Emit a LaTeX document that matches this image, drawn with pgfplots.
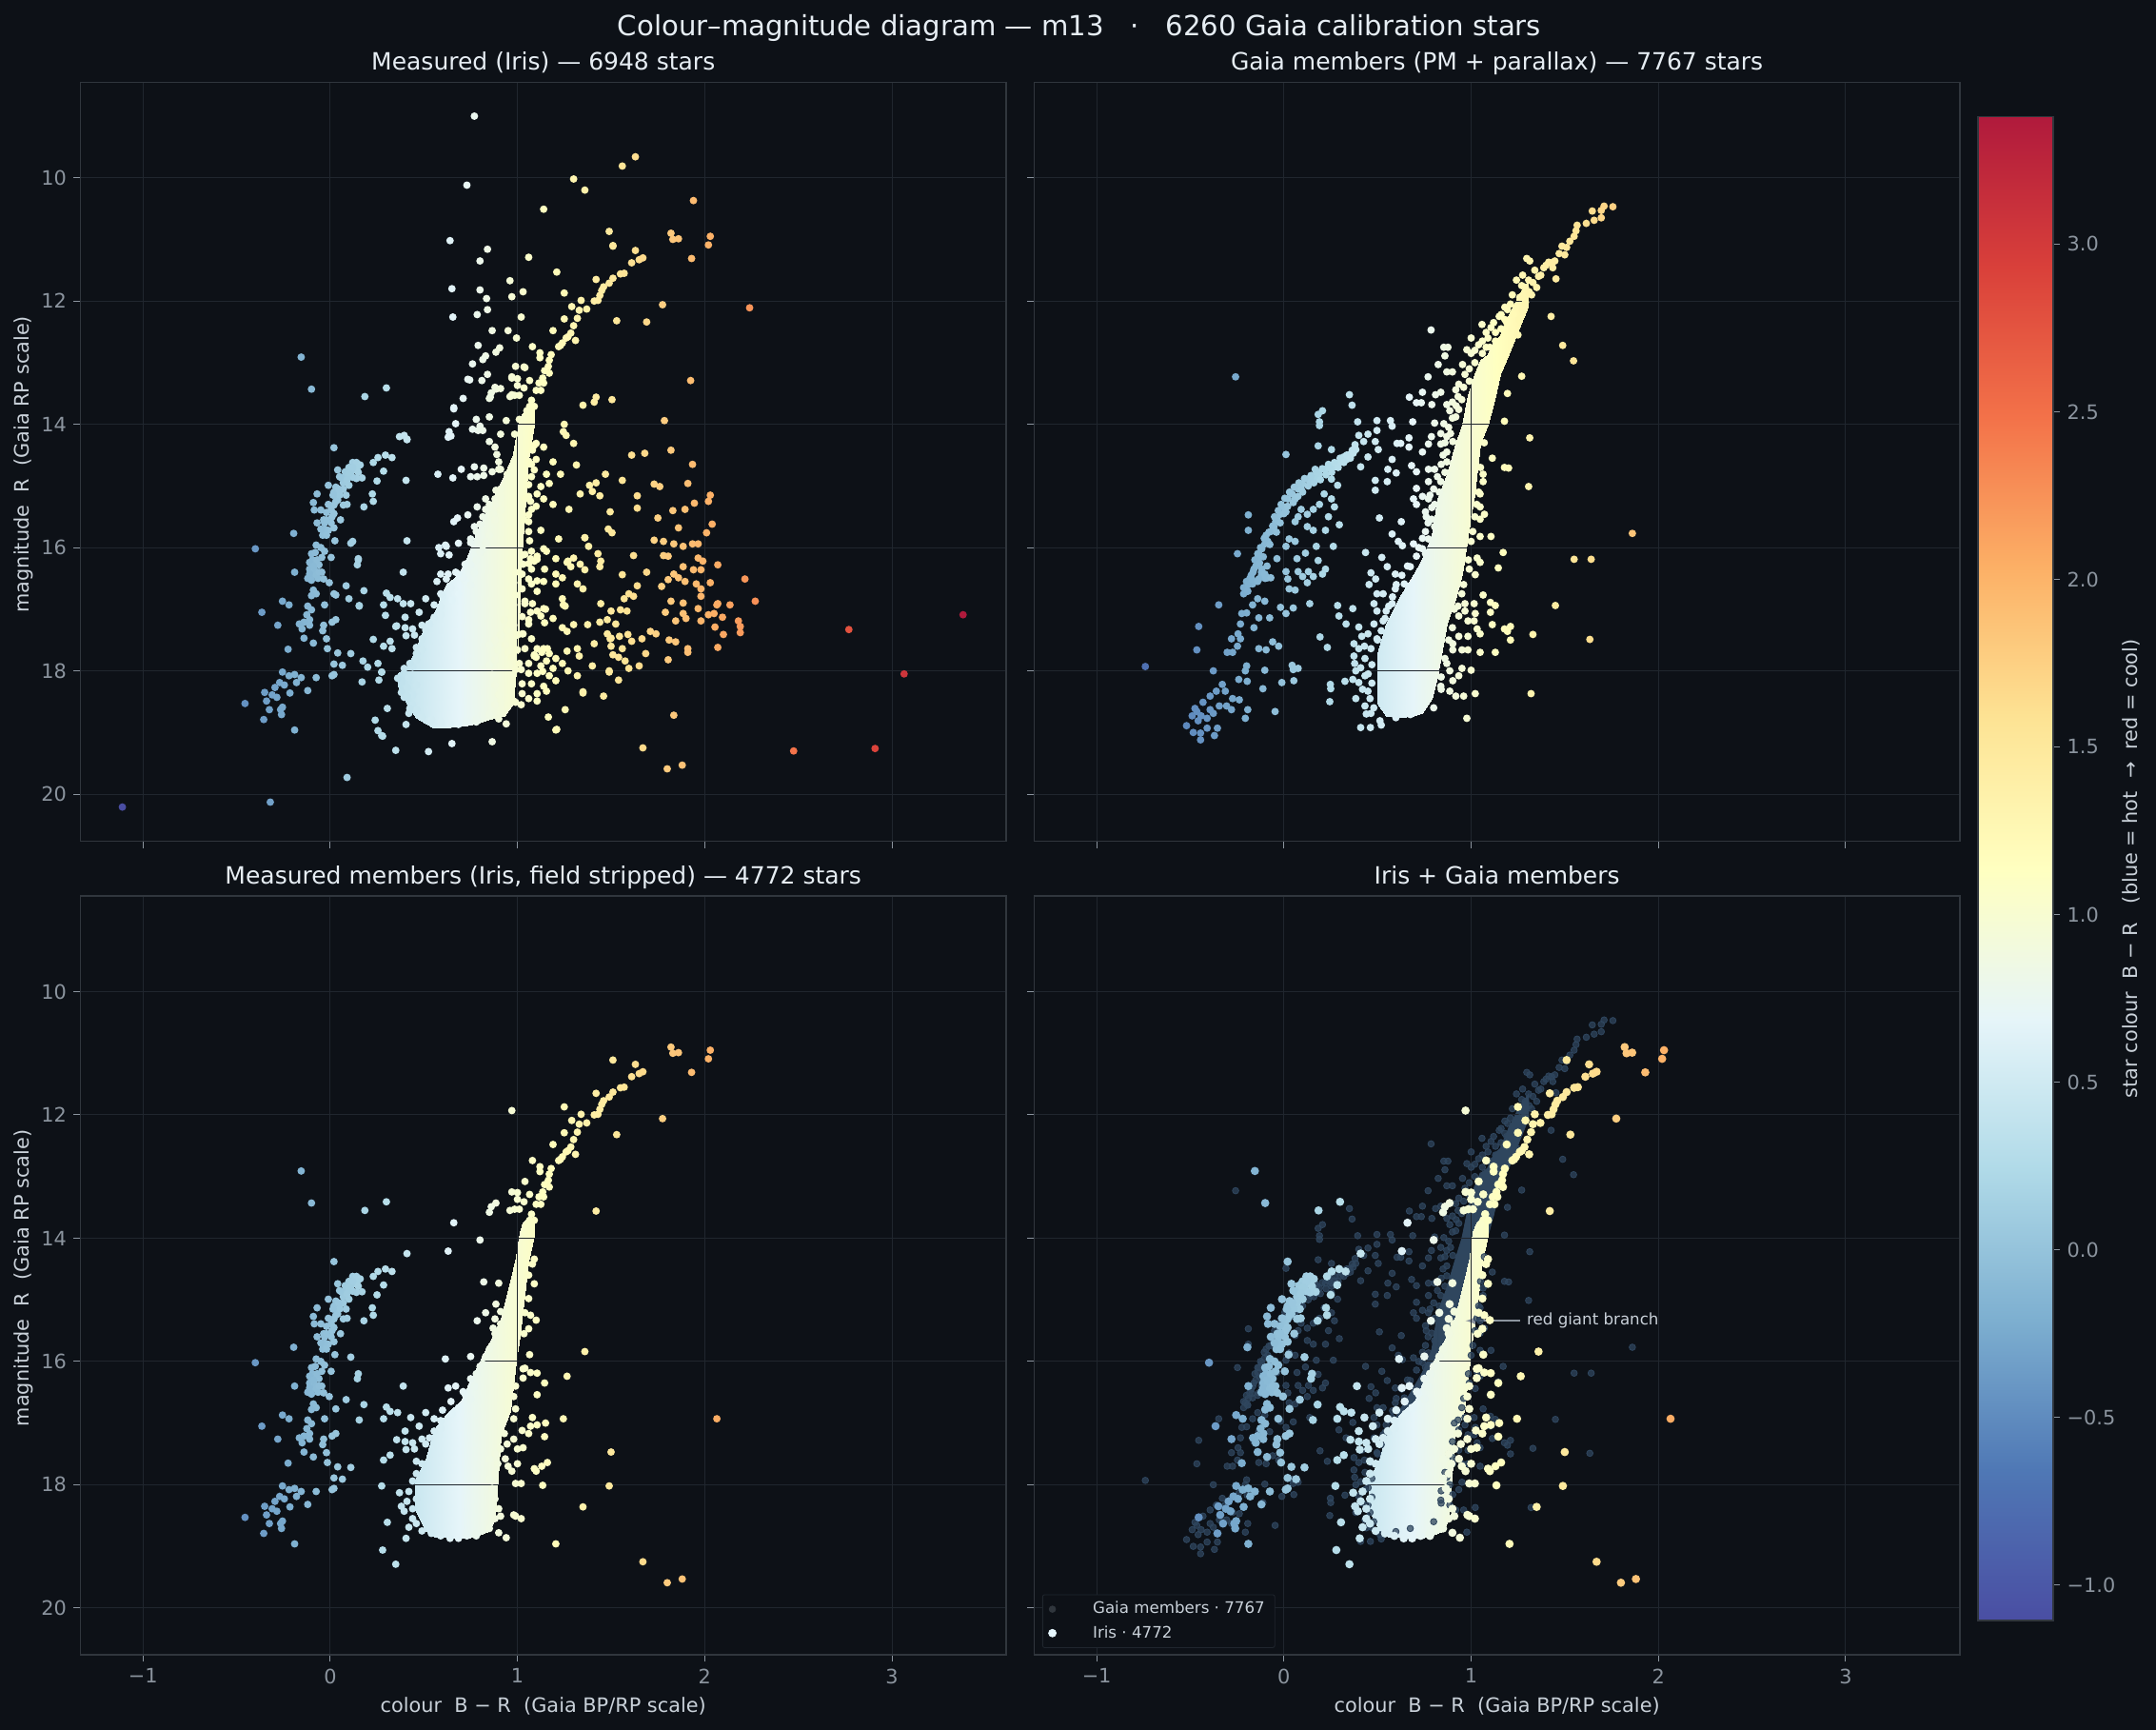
\documentclass[border=0pt]{standalone}
\usepackage{fontspec}
\setmainfont{DejaVu Sans}
\usepackage{pgfplots}
\usepackage{pgfplotstable}
\pgfplotsset{compat=1.18}
\usepgfplotslibrary{patchplots}
\definecolor{bgc}{HTML}{0D1117}
\definecolor{gridc}{HTML}{20262E}
\definecolor{framec}{HTML}{30363D}
\definecolor{tickc}{HTML}{8B949E}
\definecolor{labc}{HTML}{C9D1D9}
\definecolor{titc}{HTML}{E6EDF3}
\definecolor{gaiadim}{HTML}{2F465E}
\pgfplotsset{
  colormap={star}{rgb255=(74,78,163) rgb255=(79,120,181) rgb255=(125,175,208) rgb255=(176,218,232) rgb255=(230,245,249) rgb255=(255,255,192) rgb255=(253,227,148) rgb255=(252,176,102) rgb255=(243,114,73) rgb255=(217,64,58) rgb255=(176,26,60)},
  panel/.style={scale only axis,width=466.8pt,height=382.5pt,
    xmin=-1.334,xmax=3.61,ymin=8.45,ymax=20.76,y dir=reverse,
    axis on top,grid=major,grid style={color=gridc,line width=0.5pt},
    axis line style={color=framec,line width=0.7pt},
    tick style={color=tickc,line width=0.5pt},major tick length=3.5pt,tick align=outside,
    xtick pos=bottom,ytick pos=left,
    xtick={-1,0,1,2,3},ytick={10,12,14,16,18,20},
    xticklabels={−1,0,1,2,3},yticklabels={10,12,14,16,18,20},
    colormap name=star,point meta min=-1.106,point meta max=3.38,
    tick label style={color=tickc,font=\fontsize{10}{12}\selectfont},
    label style={color=labc,font=\fontsize{10}{12}\selectfont},
    ylabel style={yshift=-2.8pt,xshift=-1.4pt},
    title style={color=titc,font=\fontsize{12}{14}\selectfont,anchor=base,yshift=0.3pt},
    xlabel={colour\ \ B − R\ \ (Gaia BP/RP scale)},
    ylabel={magnitude\ \ R\ \ (Gaia RP scale)},
  },
  stars/.style={scatter,only marks,mark=*,mark size=1.9pt,point meta=x,forget plot,
    scatter/use mapped color={draw opacity=0,fill=mapped color}},
  blob/.style={surf,shader=interp,point meta=x,mesh/rows=2,forget plot},
}
\pgfplotstableread{
x y
1.82 10.90
1.83 11.00
1.86 10.99
2.03 10.95
2.02 11.09
1.93 11.31
1.775 12.06
1.53 12.32
1.51 11.11
1.63 11.18
1.61 11.38
1.65 11.33
1.67 11.30
1.57 11.55
1.55 11.56
1.51 11.63
1.49 11.71
1.42 11.65
1.46 11.77
1.45 11.83
1.44 11.91
1.43 11.99
1.41 12.00
1.34 11.99
1.25 11.87
1.29 12.09
1.33 12.15
1.37 12.13
1.31 12.64
1.25 12.29
1.32 12.28
1.30 12.40
1.285 12.52
1.27 12.58
1.26 12.60
1.24 12.68
1.22 12.74
1.23 12.72
1.19 12.48
1.08 12.74
1.12 12.84
1.12 12.92
1.18 12.87
1.17 12.96
1.165 13.06
1.145 13.13
1.17 13.17
1.135 13.25
1.115 13.33
1.14 13.33
1.10 13.45
1.125 13.45
1.075 13.61
1.065 13.71
1.09 13.71
1.05 13.78
0.97 11.93
0.97 13.25
1.00 13.26
1.04 13.08
1.065 13.29
1.035 13.41
1.00 13.37
0.96 13.55
0.985 13.53
1.01 13.53
0.885 13.43
0.86 13.49
0.85 13.58
1.42 13.56
0.66 13.75
0.80 14.03
0.63 14.21
0.41 14.25
1.09 14.34
1.08 14.42
1.09 14.74
1.06 14.98
1.06 14.60
0.82 14.71
0.90 14.73
0.885 15.07
0.91 15.19
0.83 15.21
0.785 15.34
0.87 15.46
0.88 15.31
1.07 15.25
1.10 15.33
1.04 15.21
1.06 15.47
1.035 15.55
1.36 15.84
1.065 15.89
0.615 15.96
0.75 15.92
1.04 16.11
1.07 16.18
1.105 16.19
1.145 16.35
1.265 16.24
1.03 16.27
1.105 16.54
1.245 16.93
2.065 16.93
1.08 16.91
1.15 17.00
1.105 17.03
1.07 17.05
1.025 17.12
1.06 17.17
1.145 17.22
1.03 17.40
1.00 17.42
1.50 17.47
1.16 17.64
1.13 17.70
1.09 17.74
1.10 17.78
1.00 17.66
0.95 17.70
0.935 17.58
0.97 17.78
0.99 17.98
1.02 17.98
1.135 18.01
1.49 18.02
1.35 18.36
1.205 18.96
1.67 19.25
1.80 19.59
1.88 19.53
0.98 18.49
1.02 18.55
0.99 18.51
0.91 18.51
0.90 18.78
0.94 18.86
0.78 18.83
0.90 18.39
0.88 18.55
0.28 19.06
0.35 19.29
0.305 18.61
0.405 18.87
0.42 18.69
0.38 18.35
0.41 18.27
0.395 18.43
0.44 18.55
0.37 18.13
0.42 18.11
0.275 18.02
0.285 17.60
0.32 17.52
0.405 17.43
0.45 17.42
0.355 17.27
0.40 17.30
0.44 17.32
0.40 17.13
0.475 17.05
0.49 17.26
0.53 17.24
0.43 16.91
0.36 16.83
0.30 16.74
0.32 16.81
0.285 16.93
0.51 16.83
0.555 16.93
0.59 16.96
0.60 16.79
0.645 16.65
0.685 16.75
0.72 16.53
0.67 16.40
0.63 16.43
0.71 16.49
0.39 16.40
0.02 14.38
0.12 14.62
0.14 14.62
0.16 14.66
0.10 14.70
0.13 14.74
0.17 14.87
0.14 14.88
0.085 14.83
0.04 14.74
0.07 14.95
0.10 14.99
0.055 15.07
0.085 15.15
0.03 15.15
-0.01 14.99
0.04 15.23
0.005 15.39
0.02 15.31
0.07 15.31
0.09 15.30
-0.02 15.43
-0.03 15.60
0.005 15.60
-0.01 15.72
-0.04 15.80
-0.035 15.55
0.055 15.55
0.02 15.68
0.11 14.78
0.08 14.77
0.12 14.86
0.06 14.87
0.03 15.02
0.05 14.85
0.02 15.10
0.145 14.70
0.15 14.78
0.12 14.70
0.10 14.80
0.09 14.90
0.07 15.05
0.05 15.15
0.045 15.05
0.03 15.25
0.02 15.45
0.01 15.50
-0.02 15.55
-0.01 15.30
-0.03 15.70
-0.05 15.70
-0.02 15.80
0.015 15.15
-0.095 16.20
-0.10 16.10
-0.065 16.50
-0.08 16.28
-0.11 16.35
-0.12 16.50
-0.095 16.42
-0.07 15.13
-0.09 15.27
-0.085 15.39
-0.05 15.39
-0.07 15.60
-0.195 15.77
-0.40 16.02
0.025 15.89
0.11 15.93
-0.075 15.96
-0.05 16.00
-0.08 16.08
-0.03 16.06
0.005 16.16
-0.045 16.16
-0.06 16.28
-0.11 16.24
-0.085 16.36
-0.11 16.43
-0.075 16.45
-0.045 16.40
-0.10 16.53
-0.035 16.51
-0.09 16.30
-0.06 16.40
-0.07 16.20
0.15 16.20
0.145 16.28
-0.19 16.40
-0.005 16.57
0.085 16.62
0.18 16.70
-0.09 16.69
-0.075 16.75
-0.10 16.78
0.03 16.77
-0.255 16.87
-0.22 16.93
0.155 16.95
-0.03 16.93
-0.12 16.95
-0.365 17.05
-0.10 17.01
-0.125 17.09
-0.11 17.17
-0.14 17.21
0.03 17.17
0.01 17.21
-0.28 17.26
-0.165 17.24
-0.15 17.32
-0.11 17.26
-0.035 17.26
-0.04 17.35
-0.14 17.47
-0.09 17.55
-0.02 17.48
-0.015 17.64
-0.225 17.65
0.04 17.71
0.11 17.72
0.02 17.89
0.065 17.91
-0.255 18.02
-0.22 18.08
-0.19 18.06
-0.155 18.11
-0.18 18.19
-0.075 18.11
0.02 18.06
0.01 18.08
-0.12 18.32
-0.27 18.19
-0.295 18.27
-0.245 18.23
-0.31 18.39
-0.35 18.35
-0.285 18.43
-0.215 18.36
-0.34 18.49
-0.255 18.59
-0.325 18.63
-0.26 18.71
-0.455 18.53
-0.355 18.79
-0.19 18.96
-0.265 18.63
-0.155 12.91
-0.10 13.43
0.185 13.55
0.30 13.41
0.23 14.62
0.255 14.54
0.295 14.50
0.33 14.54
0.285 14.76
0.25 14.92
0.225 15.13
0.23 15.25
0.18 15.34
0.46 17.62
0.49 17.66
0.51 17.34
0.555 17.13
0.59 17.09
0.65 16.85
0.75 16.61
0.78 16.20
0.815 16.04
0.75 16.28
0.77 16.41
0.80 16.08
0.85 15.80
0.83 15.92
0.88 15.55
0.91 15.39
0.46 17.82
0.44 17.94
0.46 18.23
0.44 18.39
0.46 18.63
0.49 18.75
0.54 18.79
0.59 18.83
0.64 18.87
0.685 18.87
0.73 18.83
0.78 18.79
0.85 18.71
0.88 18.23
0.865 18.06
0.85 17.90
0.88 17.82
0.895 17.66
0.91 17.42
0.945 17.34
0.93 17.17
0.98 17.26
0.88 17.50
0.85 17.58
0.98 16.93
0.99 16.77
0.98 16.57
0.99 16.40
1.03 16.12
}\tableA
\pgfplotstableread{
x y
0.77 9.00
0.73 10.12
1.63 9.66
1.56 9.81
1.30 10.02
1.36 10.20
1.14 10.51
1.94 10.37
1.49 10.87
1.51 11.10
0.64 11.02
0.84 11.16
0.80 11.35
1.06 11.29
1.21 11.53
0.96 11.67
0.65 11.80
0.80 11.82
0.835 11.96
1.03 11.85
0.84 12.14
0.785 12.22
0.655 12.26
1.02 12.26
2.24 12.11
1.69 12.34
0.865 12.48
0.95 12.48
0.995 12.60
0.79 12.72
0.905 12.76
0.885 12.83
0.83 12.89
0.815 12.95
0.76 13.02
0.99 13.06
1.035 13.07
0.735 13.27
0.81 13.29
0.84 13.19
0.97 13.23
1.925 13.29
0.745 13.28
0.88 13.40
0.91 13.42
0.71 13.58
0.66 13.73
0.97 13.52
1.35 13.69
1.41 13.64
1.505 13.60
0.855 13.56
0.78 13.92
0.85 13.88
0.94 13.94
0.67 13.99
0.635 14.12
0.645 14.19
0.79 14.10
0.815 14.10
0.76 14.08
1.25 14.00
1.245 14.12
1.26 14.18
1.785 13.94
1.30 14.31
0.37 14.20
0.395 14.18
0.41 14.24
0.85 14.28
0.88 14.37
0.91 14.16
1.10 14.31
1.14 14.37
1.82 14.42
1.61 14.50
1.68 14.47
0.89 14.49
0.90 14.61
1.10 14.57
1.19 14.61
1.315 14.66
1.935 14.65
1.075 14.65
0.91 14.73
0.77 14.69
0.70 14.73
0.575 14.81
0.655 14.87
0.75 14.85
0.785 14.85
0.82 14.83
0.865 14.77
1.155 14.81
1.23 14.81
1.075 14.85
1.47 14.81
1.56 14.91
1.73 14.97
1.76 15.01
1.91 14.96
0.405 14.91
1.17 14.96
1.125 15.01
1.42 14.95
1.385 14.99
1.40 15.09
1.44 15.16
1.335 15.13
1.64 15.16
2.03 15.15
2.02 15.25
1.945 15.28
1.06 15.17
1.105 15.13
1.14 15.21
1.19 15.30
1.075 15.38
1.275 15.38
1.495 15.42
1.64 15.36
1.83 15.40
1.895 15.38
1.75 15.52
1.06 15.58
1.125 15.72
1.06 15.74
0.66 15.58
0.68 15.52
0.735 15.47
0.77 15.66
0.78 15.74
0.815 15.50
0.88 15.21
0.83 15.38
1.485 15.70
1.505 15.76
1.86 15.68
2.04 15.62
2.01 15.76
1.36 15.84
1.73 15.88
1.78 15.90
1.835 15.94
1.885 15.98
1.935 15.94
1.965 15.94
1.22 15.86
1.38 15.98
1.14 16.02
1.075 16.06
0.41 15.89
0.12 15.90
0.58 16.00
0.62 15.98
0.685 15.93
0.59 16.10
0.635 16.12
1.43 16.10
1.445 16.22
1.62 16.13
1.78 16.13
1.805 16.14
1.965 16.17
1.99 16.22
2.07 16.28
1.205 16.18
1.155 16.06
1.105 16.14
1.27 16.22
1.30 16.17
1.335 16.27
1.285 16.31
1.36 16.36
1.44 16.31
1.885 16.31
1.94 16.36
1.98 16.36
1.835 16.43
1.69 16.40
1.56 16.44
1.205 16.43
1.24 16.49
2.215 16.51
1.86 16.49
1.895 16.55
1.955 16.59
2.03 16.57
1.805 16.52
1.77 16.63
1.64 16.62
1.32 16.59
1.35 16.67
1.205 16.59
1.14 16.55
1.075 16.59
1.105 16.71
1.595 16.75
1.57 16.83
1.62 16.79
1.98 16.67
1.98 16.79
1.82 16.87
1.885 16.90
2.27 16.87
2.07 16.91
2.135 16.93
1.445 16.91
1.24 16.83
1.255 16.95
1.14 16.99
1.04 16.87
1.79 17.05
1.885 17.07
1.965 16.99
1.55 17.01
1.50 17.03
1.585 17.03
1.90 17.15
1.98 17.19
2.02 17.09
2.05 17.07
2.095 17.13
2.18 17.19
2.19 17.28
2.19 17.38
2.055 17.29
2.10 17.41
2.07 17.62
2.77 17.33
3.38 17.09
3.065 18.05
1.845 17.19
1.44 17.21
1.48 17.17
1.525 17.24
1.375 17.25
1.30 17.25
1.24 17.30
1.265 17.36
1.19 17.15
1.125 17.11
1.48 17.40
1.545 17.44
1.495 17.48
1.59 17.41
1.71 17.36
1.74 17.40
1.665 17.48
1.61 17.52
1.41 17.56
1.81 17.50
1.845 17.53
1.91 17.64
1.91 17.70
1.805 17.82
1.50 17.60
1.56 17.64
1.685 17.72
1.51 17.74
1.54 17.78
1.575 17.84
1.595 17.96
1.49 18.00
1.65 17.92
1.40 17.92
1.32 17.64
1.265 17.68
1.33 17.76
1.24 17.88
1.32 18.08
1.27 18.00
1.54 18.15
1.46 18.41
1.35 18.34
1.17 18.08
1.205 18.16
1.105 17.64
1.14 17.64
1.17 17.72
1.205 17.80
1.155 17.84
1.125 17.92
1.19 17.96
1.09 17.76
1.06 17.88
1.06 18.04
1.105 18.04
1.14 18.25
1.075 18.21
1.105 18.37
1.155 18.33
1.06 18.45
1.105 18.49
1.025 18.37
1.255 18.63
1.165 18.75
1.21 18.95
1.835 18.72
2.475 19.30
2.91 19.26
0.09 19.73
-0.32 20.13
-1.11 20.21
0.525 19.31
0.65 19.18
0.865 19.15
0.24 18.80
0.255 18.97
0.275 19.05
0.17 18.18
0.26 18.15
0.175 17.84
0.20 17.94
0.255 17.88
0.275 18.02
0.23 17.49
0.33 17.64
0.35 17.28
0.39 16.91
0.295 17.10
0.155 16.94
0.10 16.83
0.02 16.75
0.15 16.18
1.04 16.91
1.06 17.24
1.025 17.40
1.075 17.48
1.04 17.64
1.01 17.88
1.025 16.43
1.06 16.51
1.075 16.35
1.09 16.22
1.06 16.26
1.025 16.67
0.59 16.43
0.57 16.55
1.025 18.21
0.395 17.96
0.38 18.17
0.425 17.88
0.36 18.12
0.41 18.41
0.425 18.61
0.46 17.72
0.49 17.48
0.525 17.24
0.59 16.75
0.62 16.51
0.685 16.43
0.72 16.27
0.75 15.86
0.80 15.62
0.85 15.30
0.91 15.05
0.945 14.81
1.01 13.92
0.985 14.16
}\tableB
\pgfplotstableread{
x y
1.757 10.47
1.71 10.46
1.695 10.53
1.647 10.54
1.695 10.65
1.657 10.69
1.615 10.74
1.566 10.77
1.56 10.86
1.55 10.95
1.527 11.03
1.485 11.11
1.51 11.13
1.47 11.23
1.50 11.25
1.447 11.35
1.414 11.37
1.388 11.46
1.436 11.46
1.297 11.31
1.313 11.35
1.34 11.50
1.372 11.58
1.453 11.64
1.275 11.58
1.242 11.66
1.307 11.66
1.29 11.78
1.35 11.78
1.22 11.90
1.26 11.94
1.323 11.90
1.29 12.02
1.275 12.14
1.427 12.25
1.489 12.72
1.547 12.97
1.194 12.14
1.226 12.22
1.258 12.30
1.16 12.22
1.18 12.30
1.058 12.38
1.106 12.43
1.08 12.51
1.13 12.51
0.786 12.47
1.00 12.60
1.04 12.71
1.08 12.75
0.854 12.75
0.876 12.75
0.86 12.89
0.977 12.79
0.954 13.03
0.824 13.03
0.87 13.15
0.90 13.15
0.77 13.23
1.27 13.22
1.194 13.50
-0.258 13.23
0.934 13.35
0.967 13.19
0.918 13.44
0.838 13.48
0.74 13.48
0.81 13.52
0.67 13.56
0.708 13.65
0.734 13.65
0.79 13.68
0.87 13.68
0.90 13.64
0.886 13.78
0.918 13.88
0.934 13.76
0.35 13.52
0.364 13.69
0.206 13.78
0.183 13.84
0.19 13.96
0.19 14.02
0.394 13.96
0.497 13.94
0.569 13.94
0.578 14.03
0.688 13.96
0.805 13.98
0.854 13.99
1.178 13.95
1.313 14.22
0.40 14.18
0.497 14.10
0.449 14.16
0.426 14.28
0.488 14.28
0.604 14.31
0.624 14.31
0.668 14.22
0.668 14.37
0.74 14.45
0.772 14.32
0.788 14.20
0.838 14.15
0.87 14.20
0.838 14.32
0.87 14.45
0.902 14.28
0.578 14.57
0.504 14.41
0.449 14.53
0.41 14.69
0.682 14.67
0.772 14.73
0.708 14.77
0.805 14.73
0.87 14.61
0.90 14.73
0.555 14.73
0.60 14.79
0.488 14.91
0.552 14.93
0.488 15.07
0.708 15.04
0.772 14.93
0.838 14.93
0.87 15.05
0.74 15.17
0.692 15.21
0.708 15.30
0.772 15.21
0.805 15.30
0.756 15.42
0.789 15.54
0.805 15.66
0.756 15.74
0.772 15.86
0.627 15.58
0.51 15.52
0.578 15.78
0.611 15.90
0.633 15.97
0.692 15.94
0.756 16.10
0.708 16.14
1.113 14.55
1.178 14.70
1.20 14.71
1.307 15.01
1.064 14.81
1.064 14.93
1.048 15.13
1.048 15.34
1.071 15.46
1.048 15.54
1.009 15.74
1.048 15.82
1.106 15.82
1.861 15.77
1.55 16.19
1.641 16.19
1.171 16.08
1.032 16.17
1.048 16.24
1.145 16.33
1.022 16.44
1.064 16.77
1.103 16.89
1.129 16.94
1.103 17.05
1.016 16.91
0.967 16.91
0.967 17.03
1.022 17.07
1.016 17.19
0.983 17.19
0.934 17.11
1.113 17.25
1.178 17.32
1.21 17.28
1.194 17.36
1.21 17.50
1.45 16.94
1.33 17.41
1.634 17.49
1.048 17.40
1.032 17.32
0.983 17.44
0.934 17.44
0.902 17.56
0.902 17.66
0.951 17.66
0.983 17.66
1.048 17.70
1.129 17.70
0.87 17.88
0.886 18.00
0.951 17.96
1.00 17.99
0.934 18.08
0.902 18.16
0.886 18.33
0.918 18.41
0.96 18.41
1.022 18.37
1.32 18.37
0.977 18.77
0.436 16.08
0.523 16.16
0.552 16.31
0.465 16.41
0.49 16.51
0.595 16.43
0.675 16.31
0.455 16.60
0.497 16.75
0.53 16.75
0.481 16.91
0.287 16.94
0.294 17.11
0.368 16.99
0.332 17.24
0.497 17.03
0.546 17.03
0.595 16.67
0.643 16.59
0.578 16.91
0.53 17.19
0.481 17.24
0.40 17.29
0.449 17.40
0.416 17.44
0.374 17.56
0.497 17.48
0.193 17.45
0.232 17.62
0.40 17.64
0.465 17.64
0.374 17.76
0.433 17.80
0.378 17.88
0.384 18.00
0.433 18.08
0.40 18.19
0.326 18.17
0.368 18.14
0.248 18.22
0.25 18.29
0.384 18.45
0.245 18.50
0.449 18.33
0.433 18.57
0.465 18.69
0.513 18.81
0.41 18.92
0.462 18.92
0.52 18.88
0.598 18.76
0.675 18.71
0.838 18.25
0.335 14.57
0.303 14.61
0.27 14.69
0.238 14.65
0.222 14.73
0.19 14.81
0.157 14.85
0.125 14.89
0.10 14.97
0.076 15.05
0.044 15.13
0.021 15.21
-0.005 15.34
-0.02 15.46
-0.044 15.58
-0.07 15.74
-0.086 15.90
-0.118 16.02
-0.14 16.18
-0.16 16.35
-0.183 16.51
-0.206 16.67
0.351 14.49
0.384 14.41
0.319 14.53
0.254 14.73
0.173 14.89
0.141 14.93
0.092 15.05
0.06 15.21
0.011 15.42
-0.037 15.54
-0.053 15.66
-0.102 15.94
-0.134 16.10
-0.118 16.35
-0.086 16.49
-0.167 16.59
-0.193 16.71
-0.215 16.75
-0.215 16.65
-0.20 16.55
-0.19 16.60
-0.175 16.45
-0.165 16.40
-0.15 16.30
-0.155 16.20
-0.14 16.10
-0.125 16.00
-0.11 16.15
-0.105 15.85
-0.095 15.80
-0.08 15.75
-0.075 15.95
-0.06 15.65
-0.05 15.50
-0.04 15.75
-0.03 15.40
-0.02 15.60
-0.015 15.30
0.00 15.45
0.005 15.20
0.02 15.33
0.03 15.10
0.05 15.27
0.055 15.02
0.075 15.17
0.08 14.95
0.10 15.10
0.11 14.88
0.13 15.00
0.145 14.83
0.16 14.95
0.175 14.78
0.195 14.90
0.205 14.72
0.225 14.82
0.24 14.70
0.255 14.78
0.27 14.62
0.29 14.70
0.30 14.55
0.32 14.62
0.335 14.50
0.355 14.55
0.365 14.42
0.38 14.33
0.37 14.47
-0.13 16.25
-0.17 16.52
-0.12 16.40
-0.09 16.30
-0.12 16.45
-0.10 16.50
-0.14 16.55
-0.195 16.70
1.00 12.85
1.02 12.80
1.06 12.65
1.09 12.60
1.12 12.35
1.15 12.25
1.18 12.10
1.21 12.05
1.24 12.10
1.28 11.95
1.31 11.85
1.27 11.75
1.33 11.70
1.36 11.60
1.40 11.42
1.43 11.38
1.06 12.85
1.10 12.75
1.13 12.65
1.16 12.45
1.19 12.35
1.22 12.45
1.25 12.55
1.02 13.00
0.99 13.10
0.99 13.30
0.96 13.40
0.95 13.60
0.93 13.55
0.92 13.70
0.90 13.90
0.88 14.05
0.89 14.15
0.86 14.30
0.85 14.50
0.84 14.65
0.86 14.78
0.82 14.85
0.80 15.05
0.83 15.10
0.78 15.15
0.79 15.35
0.76 15.50
0.77 15.60
0.74 15.85
0.72 16.00
0.74 16.02
0.47 17.90
0.45 18.05
0.47 18.20
0.46 18.45
0.48 18.60
0.50 17.50
0.52 17.35
0.54 17.15
0.56 16.95
0.58 16.80
0.60 16.60
0.63 16.45
0.66 16.30
0.43 17.60
0.41 17.95
0.42 18.30
0.44 18.70
0.84 18.30
0.80 18.60
0.86 17.80
0.88 17.50
0.90 17.30
0.84 18.10
0.93 16.95
0.96 16.60
0.985 16.20
1.00 15.90
1.02 15.50
1.04 15.10
1.05 14.70
1.07 14.30
1.03 15.30
0.91 17.00
0.95 16.75
0.99 16.35
0.011 14.49
0.183 14.35
0.254 14.41
0.167 14.73
0.254 14.89
0.287 14.99
0.215 15.13
0.254 15.21
0.27 15.34
0.19 15.30
0.157 15.38
0.125 15.46
0.092 15.38
0.076 15.50
0.06 15.58
0.238 15.50
0.296 15.63
0.222 15.72
0.157 15.72
0.125 15.66
0.028 15.86
0.06 15.90
0.011 15.98
0.264 15.98
0.173 15.98
0.115 16.09
0.07 16.18
0.183 16.21
-0.037 16.18
-0.248 16.10
-0.19 15.47
-0.19 15.72
0.222 16.35
0.206 16.43
0.076 16.39
0.131 16.39
0.10 16.47
0.157 16.47
0.125 16.57
0.011 16.39
0.021 16.51
0.028 16.67
0.06 16.69
-0.134 16.51
-0.07 16.49
-0.102 16.43
0.138 16.91
-0.018 16.97
0.011 17.07
0.05 16.98
-0.102 16.87
-0.167 16.93
-0.14 16.83
-0.348 16.93
-0.199 17.06
-0.225 17.07
-0.134 17.14
-0.076 17.14
-0.16 17.30
-0.232 17.24
-0.245 17.40
-0.28 17.48
-0.232 17.48
-0.248 17.60
-0.274 17.70
-0.303 17.70
-0.455 17.28
-0.465 17.66
-0.06 17.53
-0.134 17.64
-0.095 17.66
-0.028 17.60
-0.74 17.93
-0.377 18.00
-0.199 17.92
-0.206 18.00
-0.102 17.99
0.044 17.91
0.076 17.96
0.05 17.98
-0.241 18.14
-0.196 18.17
-0.329 18.22
-0.112 18.29
-0.011 18.19
0.053 18.16
-0.361 18.33
-0.313 18.33
-0.274 18.45
-0.238 18.47
-0.394 18.41
-0.432 18.51
-0.475 18.61
-0.49 18.73
-0.458 18.81
-0.41 18.77
-0.377 18.69
-0.394 18.63
-0.345 18.57
-0.306 18.57
-0.28 18.63
-0.193 18.63
-0.206 18.77
-0.047 18.66
-0.52 18.89
-0.484 19.00
-0.445 19.01
-0.445 19.12
-0.41 18.93
-0.355 18.93
-0.371 19.05
-0.465 18.66
-0.442 18.73
}\tableC
\pgfplotstableread{
x y
0.455 17.92
0.507 17.60
0.556 17.10
0.621 16.85
0.702 16.62
0.750 16.30
0.815 15.90
0.848 15.70
0.880 15.50
0.912 15.30
0.961 14.70
0.994 14.30
1.010 13.90
1.026 13.74
1.058 13.66
1.090 13.72
0.455 18.40
0.507 18.75
0.556 18.84
0.621 18.86
0.702 18.86
0.750 18.86
0.815 18.80
0.848 18.75
0.880 18.55
0.912 17.20
0.961 16.80
0.994 16.00
1.010 15.58
1.026 15.18
1.058 14.38
1.090 13.96
}\blobA
\pgfplotstableread{
x y
0.36 18.04
0.41 17.92
0.46 17.64
0.507 17.24
0.556 17.07
0.621 16.59
0.686 16.43
0.734 16.14
0.783 15.74
0.831 15.46
0.88 15.13
0.929 14.81
0.977 14.49
1.00 14.00
1.02 13.84
1.058 13.72
1.09 13.76
0.36 18.25
0.41 18.57
0.46 18.77
0.507 18.85
0.556 18.93
0.621 18.93
0.686 18.89
0.734 18.89
0.783 18.85
0.831 18.81
0.88 18.77
0.929 18.73
0.977 18.53
1.00 17.64
1.02 16.10
1.058 14.57
1.09 14.00
}\blobB
\pgfplotstableread{
x y
0.497 17.72
0.546 17.24
0.611 16.83
0.692 16.43
0.740 16.18
0.789 15.82
0.821 15.21
0.870 14.81
0.918 14.32
0.951 14.00
0.983 13.52
1.016 13.19
1.048 12.95
1.087 12.87
1.122 12.63
1.155 12.55
1.200 12.22
1.252 11.90
1.307 11.66
0.497 18.53
0.546 18.73
0.611 18.77
0.692 18.73
0.740 18.69
0.789 18.45
0.821 18.08
0.870 17.24
0.918 16.83
0.951 16.43
0.983 15.82
1.016 15.13
1.048 14.32
1.087 14.00
1.122 13.60
1.155 13.19
1.200 12.87
1.252 12.47
1.307 12.06
}\blobC
\begin{document}
\begin{tikzpicture}[x=1pt,y=1pt]
\path[fill=bgc] (0,0) rectangle (1087.2,872.16);
\node[color=titc,font=\fontsize{14}{16}\selectfont] at (544.3,858) {Colour–magnitude diagram — m13\ \ \ ·\ \ \ 6260 Gaia calibration stars};
% panel 1
\begin{axis}[panel,at={(40.56pt,448.2pt)},anchor=south west,xticklabels={},xlabel={},
  title={Measured (Iris) — 6948 stars}]
\addplot[stars] table {\tableA};
\addplot[stars] table {\tableB};
\addplot[blob] table {\blobB};
\end{axis}
% panel 2
\begin{axis}[panel,at={(521.47pt,448.2pt)},anchor=south west,xticklabels={},yticklabels={},xlabel={},ylabel={},
  title={Gaia members (PM + parallax) — 7767 stars}]
\addplot[stars] table {\tableC};
\addplot[blob] table {\blobC};
\end{axis}
% panel 3
\begin{axis}[panel,at={(40.56pt,37.9pt)},anchor=south west,
  title={Measured members (Iris, field stripped) — 4772 stars}]
\addplot[stars] table {\tableA};
\addplot[blob] table {\blobA};
\end{axis}
% panel 4
\begin{axis}[panel,at={(521.47pt,37.9pt)},anchor=south west,yticklabels={},ylabel={},
  title={Iris + Gaia members},
  legend style={at={(0.0088,0.009)},anchor=south west,fill=bgc,draw=gridc,rounded corners=1pt,
    text=labc,font=\fontsize{8}{10}\selectfont,row sep=0.5pt,inner xsep=3pt,inner ysep=1.5pt},
  legend cell align=left,legend image post style={xshift=5pt}]
\addplot[surf,shader=flat,mesh/rows=2,forget plot,point meta=x,colormap={dimc}{rgb255=(47,70,94) rgb255=(47,70,94)}] table {\blobC};
\addplot[only marks,mark=*,mark size=1.6pt,color=gaiadim,mark options={draw=none,fill=gaiadim,fill opacity=0.75},forget plot] table {\tableC};
\addplot[stars,mark size=2.1pt] table {\tableA};
\addplot[blob] table {\blobA};
\addlegendimage{only marks,mark=*,mark size=1.6pt,color=framec}
\addlegendentry{\hspace*{16.5pt}Gaia members · 7767}
\addlegendimage{only marks,mark=*,mark size=1.9pt,color=white!90!cyan}
\addlegendentry{\hspace*{16.5pt}Iris · 4772}
\draw[-latex,color=tickc,line width=0.7pt] (axis cs:1.26,15.34) -- (axis cs:0.97,15.34);
\node[anchor=west,color=labc,font=\fontsize{8}{10}\selectfont,inner sep=0pt] at (axis cs:1.296,15.34) {red giant branch};
\end{axis}
% colour bar
\begin{axis}[scale only axis,at={(997.44pt,55.2pt)},anchor=south west,width=37.92pt,height=758.1pt,
  xmin=0,xmax=1,ymin=-1.106,ymax=3.38,xtick=\empty,
  ytick={-1,-0.5,0,0.5,1,1.5,2,2.5,3},yticklabels={−1.0,−0.5,0.0,0.5,1.0,1.5,2.0,2.5,3.0},
  ytick pos=right,yticklabel pos=right,tick align=outside,major tick length=3.5pt,
  tick style={color=tickc,line width=0.5pt},
  tick label style={color=tickc,font=\fontsize{10}{12}\selectfont},
  axis line style={color=framec,line width=0.7pt},
  colormap name=star,point meta min=-1.106,point meta max=3.38,clip=false,axis on top]
\addplot[surf,shader=interp,point meta=y,mesh/rows=2] coordinates {(0,-1.106)(1,-1.106)(0,3.38)(1,3.38)};
\node[rotate=90,color=labc,font=\fontsize{10}{12}\selectfont] at (rel axis cs:2.04,0.5) {star colour\ \ B − R\ \ \ (blue = hot\ \ →\ \ red = cool)};
\end{axis}
\end{tikzpicture}
\end{document}
